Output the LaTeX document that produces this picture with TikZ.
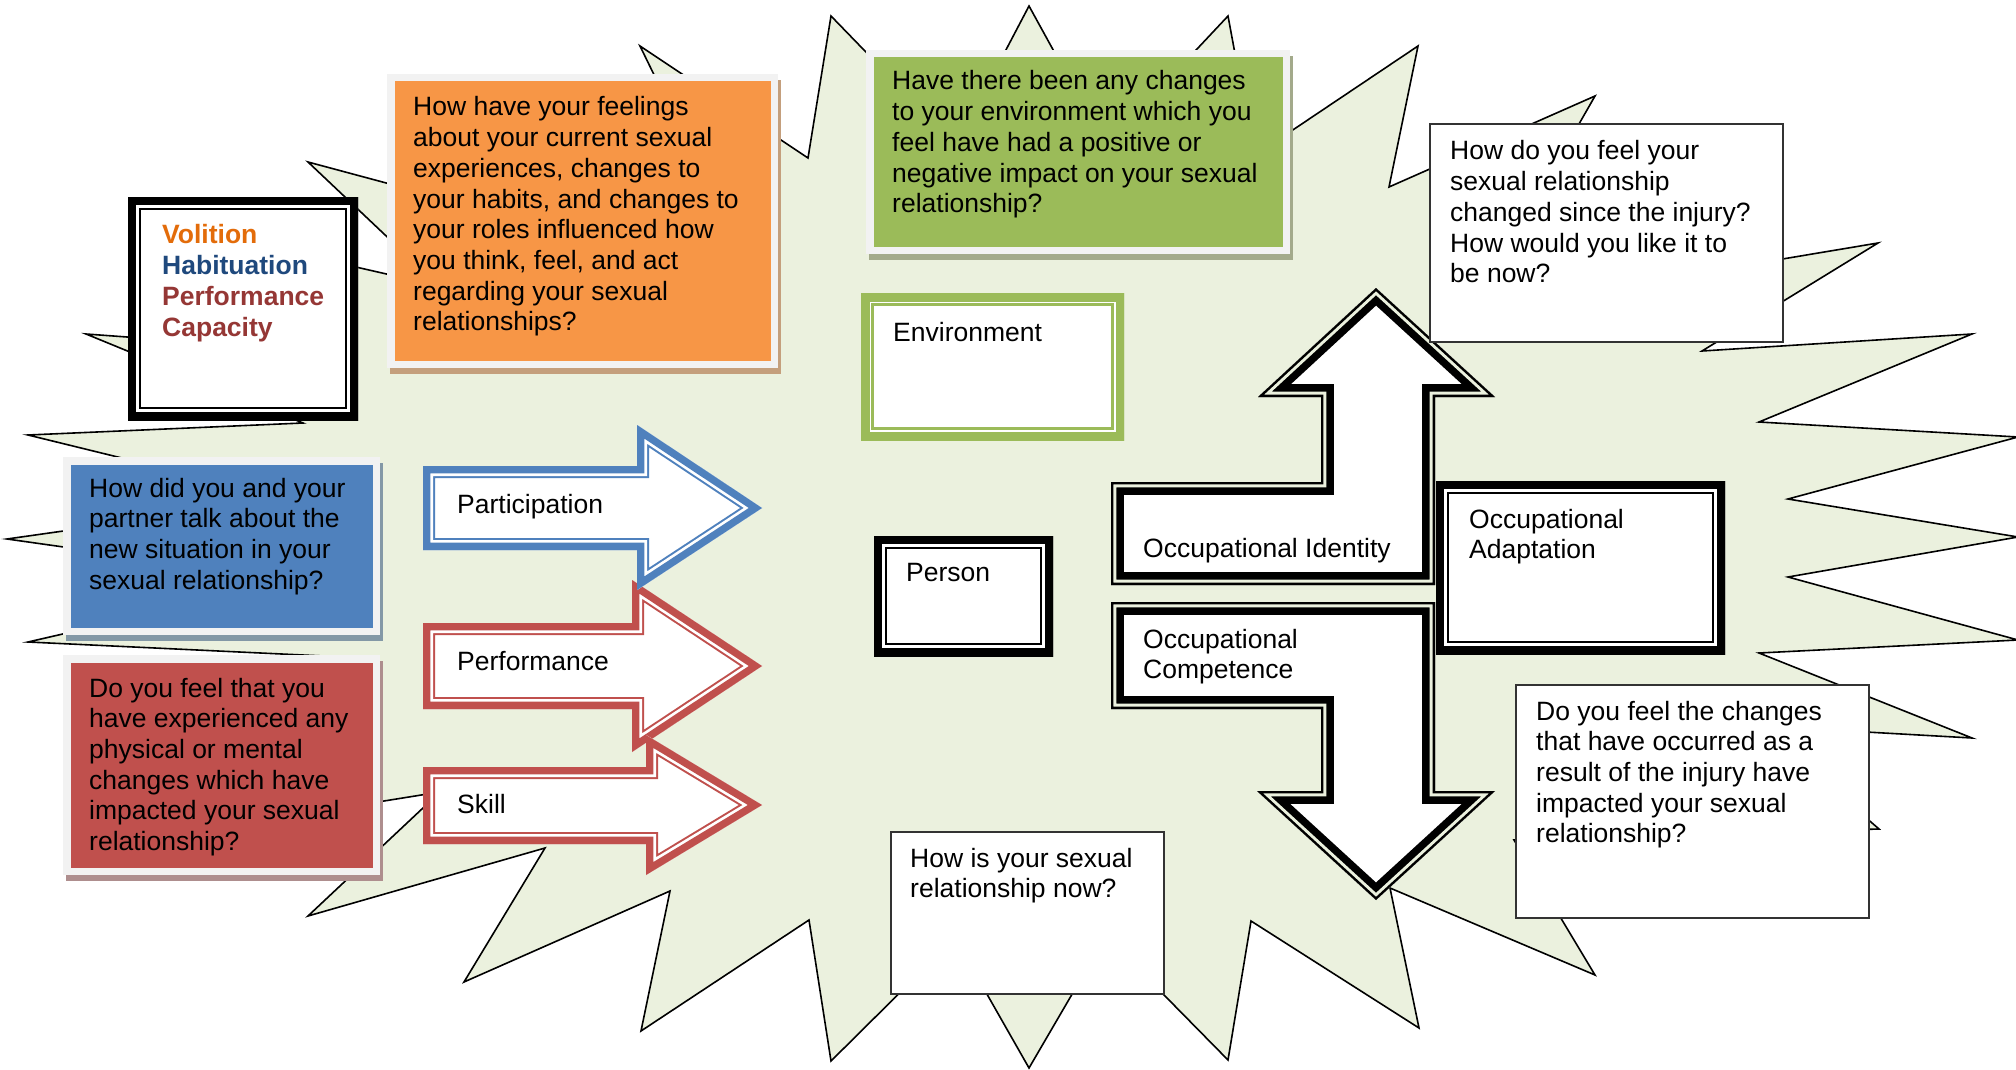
\documentclass[tikz,border=0pt]{standalone}
\usepackage{fontspec}
\setmainfont{Liberation Sans}

\definecolor{burst}{HTML}{EBF1DE}
\definecolor{qorange}{HTML}{F79646}
\definecolor{qblue}{HTML}{4F81BD}
\definecolor{qred}{HTML}{C0504D}
\definecolor{qgreen}{HTML}{9BBB59}
\definecolor{framegray}{HTML}{F2F2F2}
\definecolor{shorange}{HTML}{C49F7C}
\definecolor{shblue}{HTML}{8398A6}
\definecolor{shred}{HTML}{AE8E8E}
\definecolor{shgreen}{HTML}{A3AA8B}
\definecolor{volcol}{HTML}{E36C0A}
\definecolor{habcol}{HTML}{1F497D}
\definecolor{perfcol}{HTML}{953735}

% lines of text stacked with a fixed baseline distance; baseline = first line
\newcommand\qlines[2][30.7pt]{\vtop{\baselineskip=#1\lineskiplimit=-100pt\lineskip=0pt\halign{##\hfil\cr#2\crcr}}}

% framed colour box with a soft drop shadow: x1 y1 x2 y2 fill shadow
\newcommand\tintbox[6]{%
  \fill[#6] (#1+3,#2+6) rectangle (#3+3,#4+6);
  \fill[framegray] (#1,#2) rectangle (#3,#4);
  \fill[#5] (#1+7.5,#2+7.5) rectangle (#3-7.5,#4-7.5);}

% compound border drawn inside an outline:
% [gap colour] line colour, three band widths, path
\newcommand\banded[6][white]{%
  \fill[white] #6;
  \begin{scope}
    \clip #6;
    \draw[#2, line width=#3, line join=miter] #6;
    \draw[#1, line width=#4, line join=miter] #6;
    \draw[#2, line width=#5, line join=miter] #6;
  \end{scope}}

\tikzset{
  qtext/.style={anchor=base west, inner sep=0pt, font=\fontsize{26.5}{30.7}\selectfont},
  plainbox/.style={fill=white, draw=black!80, line width=1.3pt},
}

\begin{document}
\begin{tikzpicture}[x=1pt,y=-1pt]
\fill[white] (0,0) rectangle (2016,1070);
\useasboundingbox (0,0) rectangle (2016,1070);

% the explosion background
\begin{scope}
\clip (0,0) rectangle (2016,1070);
\filldraw[fill=burst, draw=black, line width=1.6pt, line join=miter]
 (1878,243) -- (1702,351) -- (1972,334) -- (1759,422) -- (2018,437) -- (1788,499)
 -- (2018,537) -- (1788,577) -- (2018,640) -- (1759,653) -- (1972,738) -- (1760,726)
 -- (1879,829) -- (1514,840) -- (1595,975) -- (1390,888) -- (1419,1028) -- (1251,921)
 -- (1228,1060) -- (1106,936) -- (1029,1068) -- (955,938) -- (831,1061) -- (809,920)
 -- (641,1031) -- (670,891) -- (464,982) -- (545,848) -- (308,916) -- (440,792)
 -- (110,845) -- (345,657) -- (28,642) -- (297,580) -- (7,539) -- (289,499)
 -- (28,435) -- (303,423) -- (86,334) -- (250,346) -- (150,220) -- (439,286)
 -- (308,162) -- (755,282) -- (640,46) -- (808,158) -- (831,16) -- (956,145)
 -- (1029,6) -- (1106,146) -- (1228,16) -- (1254,156) -- (1418,46) -- (1389,187)
 -- (1595,96) -- (1472,311) -- cycle;
\end{scope}

% Volition / Habituation / Performance Capacity
\banded{black}{25.4pt}{21.4pt}{15.4pt}{(128,197) rectangle (358,420)}
\node[anchor=base west, inner sep=0pt, font=\fontsize{26.5}{31.3}\selectfont\bfseries] (vhpc) at (162,243)
 {\qlines[31.3pt]{{\color{volcol}Volition}\cr{\color{habcol}Habituation}\cr{\color{perfcol}Performance}\cr{\color{perfcol}Capacity}}};

% coloured question boxes
\tintbox{387}{74}{778}{368}{qorange}{shorange}
\node[qtext] (qhabits) at (413,116) {\qlines{How have your feelings\cr about your current sexual\cr experiences, changes to\cr your habits, and changes to\cr your roles influenced how\cr you think, feel, and act\cr regarding your sexual\cr relationships?}};

\tintbox{866}{50}{1290}{254}{qgreen}{shgreen}
\node[qtext] (qenv) at (892,90) {\qlines{Have there been any changes\cr to your environment which you\cr feel have had a positive or\cr negative impact on your sexual\cr relationship?}};

\tintbox{63}{457}{380}{635}{qblue}{shblue}
\node[qtext] (qtalk) at (89,497) {\qlines{How did you and your\cr partner talk about the\cr new situation in your\cr sexual relationship?}};

\tintbox{63}{655}{380}{875}{qred}{shred}
\node[qtext] (qbody) at (89,697) {\qlines{Do you feel that you\cr have experienced any\cr physical or mental\cr changes which have\cr impacted your sexual\cr relationship?}};

% Participation / Performance / Skill arrows
\banded{qred}{24pt}{20pt}{14.6pt}{(423,623) -- (632,623) -- (632,580) -- (762,666) -- (632,752) -- (632,709) -- (423,709) -- cycle}
\node[qtext] (perf) at (457,670) {Performance};
\banded{qblue}{24pt}{20pt}{14.6pt}{(423,466) -- (637,466) -- (637,425) -- (762,508) -- (637,590) -- (637,550) -- (423,550) -- cycle}
\node[qtext] (part) at (457,513) {Participation};
\banded{qred}{24pt}{20pt}{14.6pt}{(423,767) -- (646,767) -- (646,735) -- (762,805) -- (646,875) -- (646,844) -- (423,844) -- cycle}
\node[qtext] (skill) at (457,813) {Skill};

% Environment and Person
\banded{qgreen}{25.4pt}{20.4pt}{17pt}{(861,293) rectangle (1124,440)}
\node[qtext] (env) at (893,341) {Environment};
\banded{black}{25.4pt}{21.4pt}{15.4pt}{(874,536) rectangle (1053,656)}
\node[qtext] (person) at (906,581) {Person};

% identity and competence arrows: thin outer line, open gap, thick inner line
\banded[burst]{black}{25.8pt}{10.6pt}{4.6pt}{(1111,585) -- (1111,482) -- (1321,482) -- (1321,397) -- (1258,397) -- (1376,288) -- (1495,397) -- (1435,397) -- (1435,585) -- cycle}
\node[qtext] (ident) at (1143,557) {Occupational Identity};
\banded[burst]{black}{25.8pt}{10.6pt}{4.6pt}{(1111,602) -- (1435,602) -- (1435,791) -- (1495,791) -- (1376,900) -- (1257,791) -- (1321,791) -- (1321,709) -- (1111,709) -- cycle}
\node[qtext] (compet) at (1143,648) {\qlines{Occupational\cr Competence}};

% adaptation
\banded{black}{25.4pt}{21.4pt}{15.4pt}{(1436,481) rectangle (1725,654)}
\node[qtext] (adapt) at (1469,528) {\qlines{Occupational\cr Adaptation}};

% plain question boxes
\draw[plainbox] (1430,124) rectangle (1783,342);
\node[qtext] (qchange) at (1450,160) {\qlines{How do you feel your\cr sexual relationship\cr changed since the injury?\cr How would you like it to\cr be now?}};
\draw[plainbox] (1516,685) rectangle (1869,918);
\node[qtext] (qimpact) at (1536,720) {\qlines{Do you feel the changes\cr that have occurred as a\cr result of the injury have\cr impacted your sexual\cr relationship?}};
\draw[plainbox] (891,832) rectangle (1164,994);
\node[qtext] (qnow) at (910,867) {\qlines{How is your sexual\cr relationship now?}};
\end{tikzpicture}
\end{document}
